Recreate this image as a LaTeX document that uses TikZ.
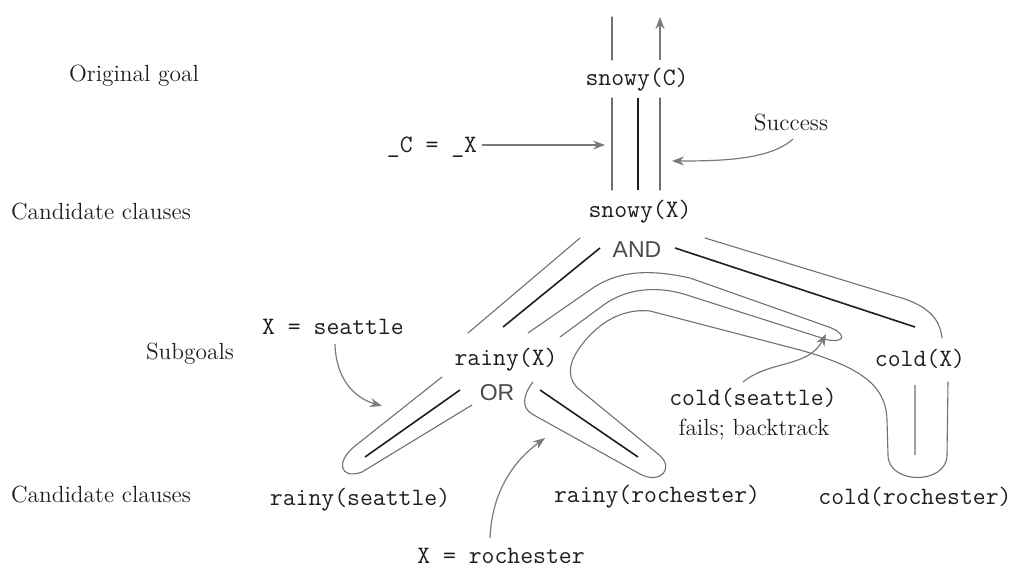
\documentclass[tikz,border=0pt]{standalone}
\usepackage{fontspec}
\newfontfamily\andorfont{Liberation Sans}
\usetikzlibrary{arrows.meta}
\definecolor{trace}{HTML}{707070}
\definecolor{edgeblk}{HTML}{1E1E1E}
\definecolor{pointer}{HTML}{7A7A7A}
\definecolor{factbar}{HTML}{A0A0A0}
\definecolor{ink}{HTML}{1E1E1E}
\begin{document}
\begin{tikzpicture}[x=0.5pt,y=-0.5pt,
  term/.style={inner sep=0pt, text=ink, font=\fontsize{12.5}{15}\selectfont\ttfamily\addfontfeatures{FakeBold=0.8}},
  caption/.style={inner sep=0pt, text=ink, font=\fontsize{11.7}{14}\selectfont},
  joiner/.style={inner sep=0pt, text=ink!80, font=\fontsize{11.5}{14}\selectfont\andorfont},
  tracepath/.style={draw=trace, line width=0.55pt, line cap=round},
  treeedge/.style={draw=edgeblk, line width=0.8pt},
  factedge/.style={draw=factbar, line width=1.2pt},
  pointerarrow/.style={draw=pointer, line width=0.6pt, -{Stealth[length=6pt,width=4.5pt]}},
]
\useasboundingbox (0,0) rectangle (1017,567);

% level captions
\node[caption] (lgoal)  at (134,76)  {Original goal};
\node[caption] (lcand1) at (101,212) {Candidate clauses};
\node[caption] (lsub)   at (190,354) {Subgoals};
\node[caption] (lcand2) at (101,495) {Candidate clauses};

% goals and clauses
\node[term] (snowyC) at (637,80)  {snowy(C)};
\node[term] (snowyX) at (640,212) {snowy(X)};
\node[term] (rainyX) at (506,360) {rainy(X)};
\node[term] (coldX)  at (920,359) {cold(X)};
\node[term] (rainyS) at (360,500) {rainy(seattle)};
\node[term] (rainyR) at (657,497) {rainy(rochester)};
\node[term] (coldR)  at (915,497) {cold(rochester)};

\node[joiner] (and) at (637,250) {AND};
\node[joiner] (or)  at (497,393) {OR};

% annotations
\node[term] (eqC)   at (432,147) {\_C = \_X};
\node[term] (eqS)   at (333,327) {X = seattle};
\node[term] (eqR)   at (501,556) {X = rochester};
\node[term] (coldS) at (753,398) {cold(seattle)};
\node[caption] (fails) at (754,430) {fails; backtrack};
\node[caption] (succ)  at (791,123) {Success};

% tree edges
\draw[treeedge] (638,98) -- (638,190);
\draw[treeedge] (600,248) -- (503,327);
\draw[treeedge] (675,248) -- (915,327);
\draw[treeedge] (460,390) -- (365,457);
\draw[treeedge] (540,390) -- (638,457);
\draw[factedge] (915,385) -- (915,455);

% the search trace
\draw[tracepath] (612,17) -- (612,60);
\draw[tracepath] (612,98) -- (612,190);
\draw[tracepath] (580,238) -- (468,333);
\draw[tracepath] (442,377) -- (355,446)
  .. controls (335,462) and (340,480) .. (362,472) -- (472,405);
\draw[tracepath] (528,333) -- (590,290)
  .. controls (615,272) and (645,268) .. (690,278) -- (826,326)
  .. controls (845,332) and (848,343) .. (828,340) -- (690,296)
  .. controls (655,284) and (625,290) .. (605,304) -- (560,337);
\draw[tracepath] (533,382)
  .. controls (522,396) and (522,408) .. (532,414) -- (640,474)
  .. controls (660,485) and (676,468) .. (658,454) -- (580,390)
  .. controls (567,380) and (568,365) .. (578,350)
  .. controls (595,325) and (620,308) .. (650,311) -- (800,350)
  .. controls (860,367) and (886,385) .. (887,420) -- (888,455)
  .. controls (888,485) and (947,485) .. (947,455) -- (948,382);
\draw[tracepath] (942,338) .. controls (940,320) and (930,308) .. (905,299) -- (705,238);
\draw[tracepath] (660,190) -- (660,98);

% pointers
\coordinate (topEnd) at (660,17);
\coordinate (unifyHit) at (605,145);
\coordinate (succHit) at (672,161);
\coordinate (seattleHit) at (382,406);
\coordinate (rochesterHit) at (545,438);
\coordinate (failHit) at (826,334);
\draw[pointerarrow] (660,60) -- (topEnd);
\draw[pointerarrow] (482,145) -- (unifyHit);
\draw[pointerarrow] (793,139) .. controls (770,160) and (720,161) .. (succHit);
\draw[pointerarrow] (335,344) .. controls (336,380) and (355,398) .. (seattleHit);
\draw[pointerarrow] (490,538) .. controls (492,490) and (515,460) .. (rochesterHit);
\draw[pointerarrow] (743,382) .. controls (770,360) and (808,368) .. (failHit);
\end{tikzpicture}
\end{document}
